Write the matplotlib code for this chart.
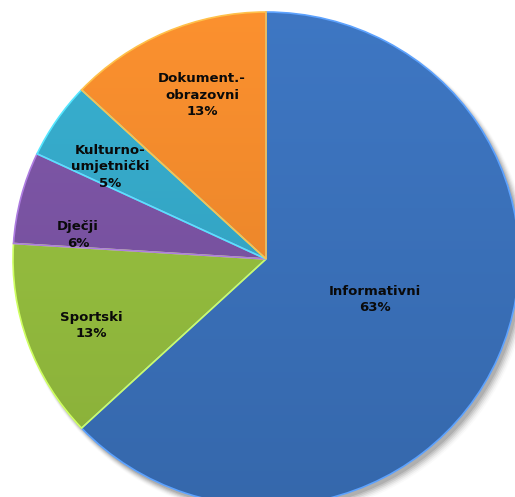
import numpy as np
import matplotlib
matplotlib.use("Agg")
import matplotlib.pyplot as plt
from matplotlib.colors import to_rgb

categories = ["Informativni", "Sportski", "Dječji", "Kulturno-\numjetnički", "Dokument.-\nobrazovni"]
values = [63, 13, 6, 5, 13]
pct_labels = ["63%", "13%", "6%", "5%", "13%"]

colors = ["#3A71BB", "#95BE3E", "#7A53A3", "#34A8C8", "#F28A2B"]
label_dist = [0.46, 0.74, 0.75, 0.72, 0.71]
label_ang_off = [2.5, 1.5, 7.0, 3.0, -2.5]

W, H = 515, 497
k = 253 / 247.0  # slight vertical squash of the pie
fig = plt.figure(figsize=(W / 100, H / 100), dpi=100)
ax = fig.add_axes([0, 0, 1, 1])

cx, cy, R = 266, (H - 259) * k, 253

# soft shadow
for i, a in enumerate(np.linspace(0.10, 0.02, 6)):
    sh = plt.Circle((cx + 3 + i * 0.6, cy - (4 + i * 0.6) * k), R + i * 0.8, color="black",
                    alpha=a, lw=0, zorder=0)
    ax.add_patch(sh)

wedges, _ = ax.pie(values, colors=colors, startangle=90, counterclock=False,
                   center=(cx, cy), radius=R, frame=True,
                   wedgeprops=dict(edgecolor="none", linewidth=0))

# gradient fills
yy = np.linspace(1, 0, 256)[:, None]
for w, c in zip(wedges, colors):
    base = np.array(to_rgb(c))
    light = np.clip(base * 1.03 + 0.01, 0, 1)
    dark = base * 0.92
    grad = light[None, None, :] * yy[..., None] + dark[None, None, :] * (1 - yy[..., None])
    grad = np.repeat(grad, 2, axis=1)
    im = ax.imshow(grad, extent=(cx - R, cx + R, cy - R, cy + R), origin="upper",
                   aspect="auto", zorder=2, interpolation="bilinear")
    im.set_clip_path(w)
    w.set_zorder(1)
    e = matplotlib.patches.Wedge(w.center, w.r, w.theta1, w.theta2, fill=False,
                                 edgecolor=tuple(np.clip(base * 1.25 + 0.08, 0, 1)),
                                 linewidth=1.2, zorder=3)
    ax.add_patch(e)

ax.set_aspect("auto")
ax.set_xlim(0, W)
ax.set_ylim(0, H * k)
ax.axis("off")

for w, cat, p, d, off in zip(wedges, categories, pct_labels, label_dist, label_ang_off):
    ang = np.deg2rad((w.theta1 + w.theta2) / 2 + off)
    x = cx + d * R * np.cos(ang)
    y = cy + d * R * np.sin(ang)
    ax.text(x, y, cat + "\n" + p, ha="center", va="center", fontsize=9.5,
            fontweight="bold", color="#0a0a0a", family="DejaVu Sans",
            linespacing=1.33, zorder=5)

fig.savefig("out.png", dpi=100)
